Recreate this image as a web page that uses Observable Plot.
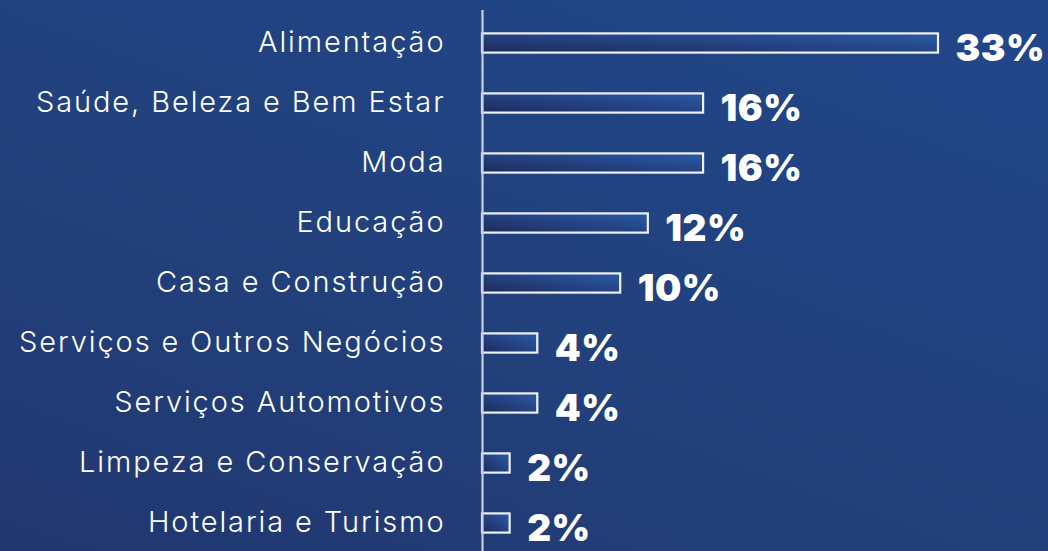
<!DOCTYPE html>
<html>
<head>
<meta charset="utf-8">
<script src="https://cdn.jsdelivr.net/npm/d3@7"></script>
<script src="https://cdn.jsdelivr.net/npm/@observablehq/plot@0.6"></script>
<style>
  html, body { margin: 0; padding: 0; }
  #chart {
    width: 1048px; height: 551px; overflow: hidden;
    background: linear-gradient(20deg, #213770 0%, #22417c 45%, #21468a 100%);
  }
  svg { display: block; }
</style>
</head>
<body>
<div id="chart"></div>
<script>
const categories = [
  "Alimentação",
  "Saúde, Beleza e Bem Estar",
  "Moda",
  "Educação",
  "Casa e Construção",
  "Serviços e Outros Negócios",
  "Serviços Automotivos",
  "Limpeza e Conservação",
  "Hotelaria e Turismo"
];
const values = [33, 16, 16, 12, 10, 4, 4, 2, 2];
const valueLabels = ["33%", "16%", "16%", "12%", "10%", "4%", "4%", "2%", "2%"];

const data = categories.map((c, i) => ({category: c, value: values[i], label: valueLabels[i]}));

const chart = Plot.plot({
  width: 1048,
  height: 551,
  marginLeft: 482,
  marginRight: 110,
  marginTop: 10,
  marginBottom: 0,
  style: {background: "transparent", overflow: "visible"},
  x: {domain: [0, 33], axis: null},
  y: {domain: categories, range: [9.6, 556.4], padding: 0, axis: null},
  marks: [
    Plot.barX(data, {
      x: "value", y: "category",
      insetTop: 20.4, insetBottom: 20.4,
      fill: "url(#barGrad)", stroke: "#eef1f8", strokeWidth: 2.2
    }),
    Plot.ruleX([0], {stroke: "#c9cfdd", strokeWidth: 2.2}),
    Plot.text(data, {
      x: 0, y: "category", text: "category",
      dx: -37, dy: -1, textAnchor: "end",
      fill: "white", fontSize: 29, fontWeight: 300,
      fontFamily: "Inter, 'Open Sans', sans-serif"
    }),
    Plot.text(data, {
      x: "value", y: "category", text: "label",
      dx: 17, dy: 6, textAnchor: "start",
      fill: "white", fontSize: 37, fontWeight: 900,
      fontFamily: "Inter, 'Open Sans', sans-serif"
    })
  ]
});

const svg = d3.select(chart);
const defs = svg.insert("defs", ":first-child");
const g = defs.append("linearGradient")
  .attr("id", "barGrad")
  .attr("x1", "0").attr("y1", "1").attr("x2", "1").attr("y2", "0");
g.append("stop").attr("offset", "0%").attr("stop-color", "#1f2b5c");
g.append("stop").attr("offset", "100%").attr("stop-color", "#2a5aa8");

// widen category labels (geometric font in the original is wider)
svg.selectAll("text")
  .filter(function() { return categories.includes(this.textContent); })
  .style("letter-spacing", "1.9px");
svg.selectAll("text")
  .filter(function() { return valueLabels.includes(this.textContent); })
  .style("letter-spacing", "0.5px");

document.getElementById("chart").appendChild(chart);
</script>
</body>
</html>
